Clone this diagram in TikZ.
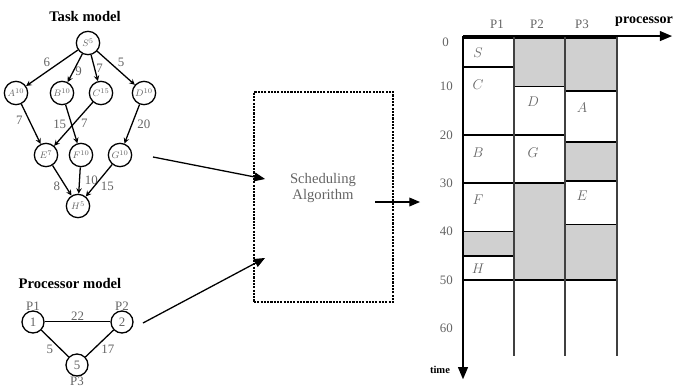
\documentclass[tikz,border=0pt]{standalone}
\usepackage{fontspec}
\setmainfont{Liberation Serif}
\usetikzlibrary{arrows, positioning, calc}
\definecolor{labelgray}{RGB}{100,100,100}
\definecolor{idlegray}{RGB}{208,208,208}

\begin{document}
\begin{tikzpicture}[x=0.03cm, y=-0.03cm,
    task/.style={circle, draw, line width=1.1pt, minimum size=0.7cm, inner sep=0pt, font=\footnotesize, text=labelgray},
    proc/.style={circle, draw, line width=1.1pt, minimum size=0.66cm, inner sep=0pt, font=\fontsize{11}{12}\selectfont, text=labelgray},
    weight/.style={font=\fontsize{11}{12}\selectfont, text=labelgray, inner sep=1pt},
    title/.style={font=\fontsize{12.5}{14}\selectfont\bfseries},
    dep/.style={->, >=stealth, line width=1.1pt},
    flow/.style={->, >=triangle 45, line width=1.1pt},
    slot/.style={draw, line width=1.4pt, fill=white},
    idle/.style={draw, line width=1.4pt, fill=idlegray},
    lane/.style={draw, line width=1.1pt, black!75},
    jobname/.style={font=\fontsize{12}{13}\selectfont, text=labelgray},
    tick/.style={font=\fontsize{11}{12}\selectfont, text=labelgray, anchor=east}]

    \useasboundingbox (0,0) rectangle (674,390);

    % task model
    \node [title] (taskttl) at (85,16) {Task model};
    \node [task] (S) at (88,43) {$S^{5}$};
    \node [task] (A) at (16,93) {$A^{10}$};
    \node [task] (B) at (62,93) {$B^{10}$};
    \node [task] (C) at (101,93) {$C^{15}$};
    \node [task] (D) at (144,93) {$D^{10}$};
    \node [task] (E) at (46,155) {$E^{7}$};
    \node [task] (F) at (81,155) {$F^{10}$};
    \node [task] (G) at (120,155) {$G^{10}$};
    \node [task] (H) at (78,206) {$H^{5}$};

    \draw [dep] (S) -- (A) node [weight, midway, above left] {6};
    \draw [dep] (S) -- (B) node [weight, pos=.6, right] {9};
    \draw [dep] (S) -- (C) node [weight, midway, right] {7};
    \draw [dep] (S) -- (D) node [weight, midway, above right] {5};
    \draw [dep] (A) -- (E) node [weight, pos=.4, left=4pt] {7};
    \draw [dep] (B) -- (F) node [weight, midway, left=3pt] {15};
    \draw [dep] (C) -- (E) node [weight, pos=.35, below right] {7};
    \draw [dep] (D) -- (G) node [weight, midway, right=3pt] {20};
    \draw [dep] (E) -- (H) node [weight, midway, below left] {8};
    \draw [dep] (F) -- (H) node [weight, midway, right=3pt] {10};
    \draw [dep] (G) -- (H) node [weight, midway, below right] {15};

    % processor model
    \node [title] (procttl) at (70,283) {Processor model};
    \node [proc] (p1) at (33,322) {1};
    \node [proc] (p2) at (122,322) {2};
    \node [proc] (p3) at (77,365) {5};
    \node [weight, above=-1pt of p1] (p1lbl) {P1};
    \node [weight, above=-1pt of p2] (p2lbl) {P2};
    \node [weight, below=-1pt of p3] (p3lbl) {P3};

    \draw [line width=0.8pt, double, double distance=0.8pt] (p1) -- (p2) node [weight, midway, above] {22};
    \draw [line width=1.1pt] (p1) -- (p3) node [weight, midway, below left] {5};
    \draw [line width=1.1pt] (p2) -- (p3) node [weight, midway, below right] {17};

    % scheduler
    \node [draw, densely dotted, line width=1.8pt, minimum width=4.17cm, minimum height=6.3cm] (sched) at (323.5,197) {};
    \node [font=\fontsize{12.5}{14}\selectfont, text=labelgray, align=center] (algtxt) at (323,188) {Scheduling\\Algorithm};

    \coordinate (tasksrc) at (153,157);
    \coordinate (taskin) at (265,179);
    \coordinate (procsrc) at (143,323);
    \coordinate (procin) at (265,258);
    \coordinate (outsrc) at (375,202);
    \coordinate (outdst) at (420,202);
    \draw [flow] (tasksrc) -- (taskin);
    \draw [flow] (procsrc) -- (procin);
    \draw [flow] (outsrc) -- (outdst);

    % gantt chart, y in time units
    \begin{scope}[shift={(0,38)}, y=-0.1452cm]
        \draw [idle] (514,0) rectangle (565,10);
        \draw [idle] (565,0) rectangle (617,11);
        \draw [idle] (565,21.5) rectangle (617,29.5);
        \draw [idle] (463,40) rectangle (514,45);
        \draw [idle] (514,30) rectangle (565,50);
        \draw [idle] (565,38.5) rectangle (617,50);

        \draw [slot] (463,0) rectangle (514,6);
        \draw [slot] (463,6) rectangle (514,20);
        \draw [slot] (463,20) rectangle (514,30);
        \draw [slot] (463,30) rectangle (514,40);
        \draw [slot] (463,45) rectangle (514,50);
        \draw [slot] (514,10) rectangle (565,20);
        \draw [slot] (514,20) rectangle (565,30);
        \draw [slot] (565,11) rectangle (617,21.5);
        \draw [slot] (565,29.5) rectangle (617,38.5);

        \draw [lane] (514,-0.4) -- (514,65.7);
        \draw [lane] (565,-0.4) -- (565,65.7);
        \draw [lane] (617,-0.4) -- (617,65.7);
        \draw [->, >=triangle 45, line width=1.4pt] (463,-0.4) -- (672,-0.4);
        \draw [->, >=triangle 45, line width=1.4pt] (463,-0.4) -- (463,70.5);

        \node [jobname] (jobS) at (478,3.1) {$S$};
        \node [jobname] (jobC) at (478,9.7) {$C$};
        \node [jobname] (jobB) at (478,23.6) {$B$};
        \node [jobname] (jobF) at (478,33.5) {$F$};
        \node [jobname] (jobH) at (478,47.7) {$H$};
        \node [jobname] (jobD) at (533,13.2) {$D$};
        \node [jobname] (jobG) at (533,23.6) {$G$};
        \node [jobname] (jobA) at (582,14.5) {$A$};
        \node [jobname] (jobE) at (582,32.6) {$E$};

        \foreach \t in {10,20,...,60}
            \node [tick] (tick\t) at (457,\t) {\t};
        \node [tick] (tick0) at (453,0.8) {0};

        \node [weight] (colP1) at (497,-2.8) {P1};
        \node [weight] (colP2) at (537,-2.8) {P2};
        \node [weight] (colP3) at (582,-2.8) {P3};
        \node [font=\fontsize{12}{13}\selectfont\bfseries] (axproc) at (644,-3.4) {processor};
        \node [font=\small\bfseries] (axtime) at (440,68.6) {time};
    \end{scope}

\end{tikzpicture}
\end{document}
